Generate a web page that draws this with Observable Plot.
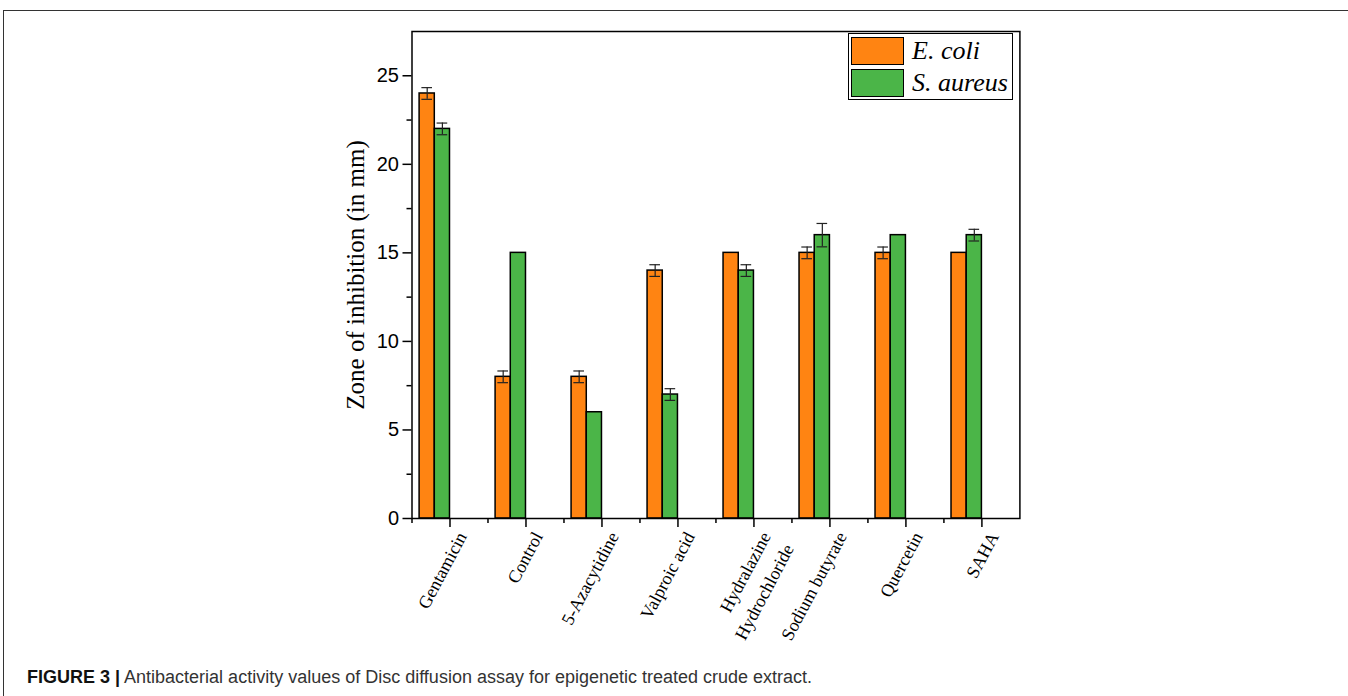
<!DOCTYPE html>
<html>
<head>
<meta charset="utf-8">
<script src="https://cdn.jsdelivr.net/npm/d3@7"></script>
<script src="https://cdn.jsdelivr.net/npm/@observablehq/plot@0.6"></script>
<style>
  html, body { margin: 0; padding: 0; background: #fff; width: 1348px; height: 696px; overflow: hidden; }
  #border { position: absolute; left: 3px; top: 10px; width: 1400px; height: 800px; border: 1px solid #333; box-sizing: border-box; }
  #chart { position: absolute; left: 0; top: 0; }
  #legend { position: absolute; left: 848px; top: 33px; width: 165px; height: 67px; border: 1px solid #000; box-sizing: border-box; background: #fff; }
  .item { position: absolute; left: 2px; height: 28px; display: flex; align-items: center; }
  .sw { width: 51px; height: 26px; border: 1.5px solid #000; margin-right: 8px; }
  .lab { font-family: "Liberation Serif", "Times New Roman", serif; font-style: italic; font-size: 26px; color: #000; }
  #caption { position: absolute; left: 27px; top: 667px; font-family: "Liberation Sans", Arial, sans-serif; font-size: 18px; color: #333; white-space: nowrap; }
  #caption b { font-weight: bold; color: #111; }
</style>
</head>
<body>
<div id="border"></div>
<div id="chart"></div>
<div id="legend"></div>
<div id="caption"><b>FIGURE 3 |</b> Antibacterial activity values of Disc diffusion assay for epigenetic treated crude extract.</div>
<script>
const categories = ["Gentamicin", "Control", "5-Azacytidine", "Valproic acid", "Hydralazine\nHydrochloride", "Sodium butyrate", "Quercetin", "SAHA"];
const seriesNames = ["E. coli", "S. aureus"];
const seriesColors = ["#ff8412", "#4bb548"];
const ecoli = [24, 8, 8, 14, 15, 15, 15, 15];
const ecoliErr = [0.33, 0.33, 0.33, 0.33, 0, 0.33, 0.33, 0];
const saureus = [22, 15, 6, 7, 14, 16, 16, 16];
const saureusErr = [0.33, 0, 0, 0.33, 0.33, 0.66, 0, 0.33];
const yMajor = [0, 5, 10, 15, 20, 25];
const yMinor = [2.5, 7.5, 12.5, 17.5, 22.5];
const xMajor = [1, 2, 3, 4, 5, 6, 7, 8];
const xMinor = [0.5, 1.5, 2.5, 3.5, 4.5, 5.5, 6.5, 7.5];

// build table: bar offset within group (orange left, green right, green ends at tick)
const table = [];
categories.forEach((c, i) => {
  table.push({cat: c, pos: i + 1, series: 0, value: ecoli[i], err: ecoliErr[i]});
  table.push({cat: c, pos: i + 1, series: 1, value: saureus[i], err: saureusErr[i]});
});
const barW = 0.2;
const x1 = d => d.pos - barW * (2 - d.series);
const x2 = d => d.pos - barW * (1 - d.series);
const xc = d => d.pos - barW * (1.5 - d.series);
const errs = table.filter(d => d.err > 0);
const cap = 0.07;

const chart = Plot.plot({
  width: 1348,
  height: 640,
  marginLeft: 411.5,
  marginRight: 328.6,
  marginTop: 31,
  marginBottom: 122,
  style: {background: "transparent", overflow: "visible", fontFamily: "Liberation Sans, Arial, sans-serif"},
  x: {type: "linear", domain: [0.5, 8.5], label: null},
  y: {domain: [0, 27.5], label: null},
  marks: [
    Plot.rect(table, {x1, x2, y1: 0, y2: "value", fill: d => seriesColors[d.series], stroke: "#000", strokeWidth: 1.5}),
    Plot.ruleX(errs, {x: xc, y1: d => d.value - d.err, y2: d => d.value + d.err, stroke: "#222", strokeWidth: 1.2}),
    Plot.ruleY(errs, {y: d => d.value + d.err, x1: d => xc(d) - cap, x2: d => xc(d) + cap, stroke: "#222", strokeWidth: 1.2}),
    Plot.ruleY(errs, {y: d => d.value - d.err, x1: d => xc(d) - cap, x2: d => xc(d) + cap, stroke: "#222", strokeWidth: 1.2}),
    Plot.frame({stroke: "#000", strokeWidth: 1.5}),
    Plot.axisY({ticks: yMajor, tickSize: 9, tickPadding: 4, fontSize: 20, stroke: "#000", strokeWidth: 1.5, fill: "#000", label: null}),
    Plot.axisY({ticks: yMinor, tickSize: 5, tickFormat: () => "", stroke: "#000", strokeWidth: 1.5, label: null}),
    Plot.axisX({ticks: xMajor, tickSize: 9, tickFormat: () => "", stroke: "#000", strokeWidth: 1.5, label: null}),
    Plot.axisX({ticks: xMinor, tickSize: 5, tickFormat: () => "", stroke: "#000", strokeWidth: 1.5, label: null}),
    Plot.text(categories, {x: (d, i) => xMajor[i], frameAnchor: "bottom", text: d => d, rotate: -62, textAnchor: "end", lineAnchor: "top", lineHeight: 1.45, dx: 1, dy: 9, fontSize: 18, fontFamily: "Liberation Serif, Times New Roman, serif", fill: "#000"}),
    Plot.text(["Zone of inhibition (in mm)"], {frameAnchor: "left", rotate: -90, textAnchor: "middle", lineAnchor: "bottom", dx: -48, fontSize: 25, fontFamily: "Liberation Serif, Times New Roman, serif", fill: "#000"})
  ]
});
document.getElementById("chart").appendChild(chart);

const legend = document.getElementById("legend");
seriesNames.forEach((name, i) => {
  const item = document.createElement("div");
  item.className = "item";
  item.style.top = (3 + i * 32) + "px";
  const sw = document.createElement("div");
  sw.className = "sw";
  sw.style.background = seriesColors[i];
  const lab = document.createElement("span");
  lab.className = "lab";
  lab.textContent = name;
  item.appendChild(sw);
  item.appendChild(lab);
  legend.appendChild(item);
});
</script>
</body>
</html>
